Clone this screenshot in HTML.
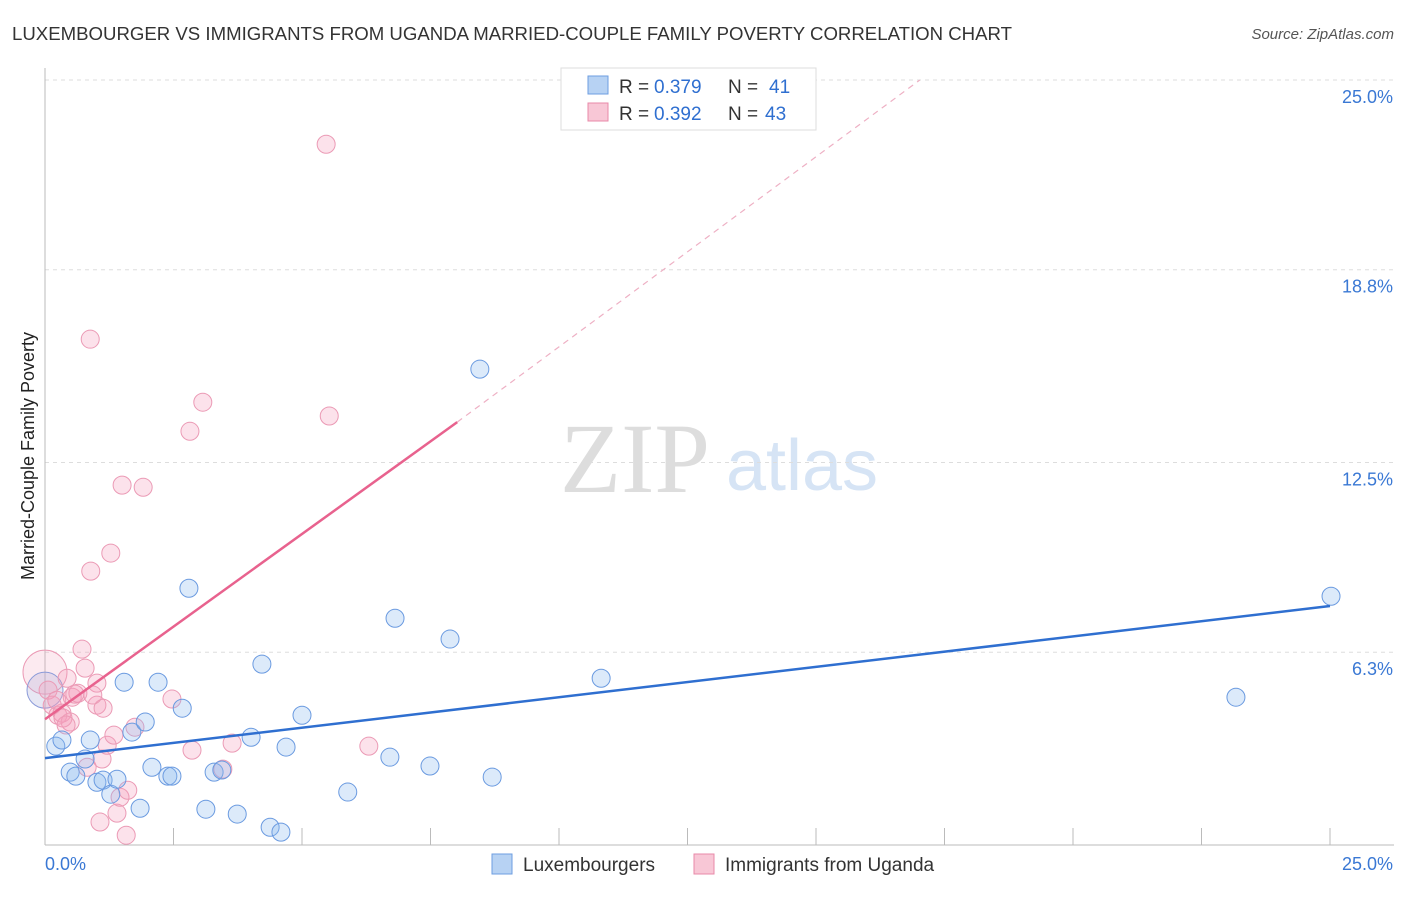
<!DOCTYPE html>
<html><head><meta charset="utf-8"><style>
body{margin:0;background:#fff;font-family:"Liberation Sans",sans-serif;}
svg text{font-family:"Liberation Sans",sans-serif;}
</style></head><body>
<svg id="c" width="1406" height="892">
<text x="12" y="40" font-size="18" fill="#333" textLength="1000" lengthAdjust="spacingAndGlyphs">LUXEMBOURGER VS IMMIGRANTS FROM UGANDA MARRIED-COUPLE FAMILY POVERTY CORRELATION CHART</text>
<text x="1394" y="39" font-size="15" fill="#555" text-anchor="end" font-style="italic">Source: ZipAtlas.com</text>
<text x="34" y="456" font-size="18" fill="#222" text-anchor="middle" transform="rotate(-90 34 456)">Married-Couple Family Poverty</text>
<g><text x="635" y="492" font-size="100" fill="#ddd" style="font-family:'Liberation Serif',serif" text-anchor="middle">ZIP</text><text x="802" y="490" font-size="72" fill="#d6e4f5" text-anchor="middle">atlas</text></g>
<g id="grid"></g><g id="marks"></g>
<g>
<rect x="561" y="68" width="255" height="62" fill="#fff" stroke="#ddd"/>
<rect x="588" y="76" width="20" height="18" fill="#b7d2f3" stroke="#6d9ee0"/>
<text x="619" y="93" font-size="19" fill="#333">R =</text><text x="654" y="93" font-size="19" fill="#2f6fd0">0.379</text><text x="728" y="93" font-size="19" fill="#333">N =</text><text x="769" y="93" font-size="19" fill="#2f6fd0">41</text>
<rect x="588" y="103" width="20" height="18" fill="#f8c7d6" stroke="#e88aa8"/>
<text x="619" y="120" font-size="19" fill="#333">R =</text><text x="654" y="120" font-size="19" fill="#2f6fd0">0.392</text><text x="728" y="120" font-size="19" fill="#333">N =</text><text x="765" y="120" font-size="19" fill="#2f6fd0">43</text>
</g>
<g>
<rect x="492" y="854" width="20" height="20" fill="#b7d2f3" stroke="#6d9ee0"/>
<text x="523" y="871" font-size="19" fill="#333">Luxembourgers</text>
<rect x="694" y="854" width="20" height="20" fill="#f8c7d6" stroke="#e88aa8"/>
<text x="725" y="871" font-size="19" fill="#333">Immigrants from Uganda</text>
</g>
</svg>
<script>
const yTicks=[25.0,18.8,12.5,6.3];
const yTickLabels=["25.0%","18.8%","12.5%","6.3%"];
const xTicks=[0,2.5,5,7.5,10,12.5,15,17.5,20,22.5,25];
const blueX=[0.21,0.33,0.49,0.60,0.78,0.88,1.01,1.13,1.28,1.40,1.54,1.69,1.85,1.95,2.08,2.20,2.39,2.47,2.67,2.80,3.13,3.29,3.44,3.74,4.01,4.22,4.38,4.59,4.69,5.00,5.89,6.71,6.81,7.49,7.88,8.46,8.70,10.82,23.17,25.02];
const blueY=[3.23,3.43,2.38,2.25,2.81,3.43,2.05,2.12,1.66,2.15,5.32,3.69,1.20,4.02,2.54,5.32,2.25,2.25,4.47,8.39,1.17,2.38,2.45,1.01,3.52,5.91,0.58,0.42,3.20,4.24,1.73,2.87,7.41,2.58,6.73,15.55,2.22,5.45,4.83,8.13];
const pinkX=[0.06,0.14,0.25,0.33,0.43,0.49,0.53,0.64,0.72,0.78,0.82,0.89,0.88,1.01,1.01,1.07,1.11,1.13,1.21,1.28,1.34,1.40,1.46,1.50,1.58,1.61,1.75,1.91,2.47,2.82,2.86,3.07,3.46,3.64,5.47,5.53,6.30,0.93,0.23,0.35,0.58,0.41];
const pinkY=[5.06,4.57,4.24,4.31,5.45,4.02,4.83,4.96,6.40,5.78,2.54,8.95,16.53,5.29,4.57,0.75,2.81,4.47,3.26,9.54,3.59,1.04,1.56,11.76,0.32,1.79,3.85,11.69,4.77,13.52,3.10,14.47,2.48,3.33,22.90,14.02,3.23,4.90,4.73,4.15,4.93,3.92];
const bigBlue=[0,5.06], bigPink=[0,5.65];
const blueTrend=[[0,2.84],[25,7.81]];
const pinkTrend=[[0,4.11],[8.02,13.82]];
const pinkDash=[[8.02,13.82],[17.02,25.0]];
const X=v=>45+v*51.4, Y=v=>845-v*30.6;
const NS="http://www.w3.org/2000/svg";
const grid=document.getElementById('grid'), marks=document.getElementById('marks');
function mk(tag,attrs,parent){const e=document.createElementNS(NS,tag);for(const k in attrs)e.setAttribute(k,attrs[k]);parent.appendChild(e);return e;}
yTicks.forEach((t,i)=>{
 const l=mk('line',{x1:45,x2:1394,y1:Y(t),y2:Y(t),stroke:'#ddd','stroke-dasharray':'4,4'},grid);
 
 
 const tx=mk('text',{x:1393,y:Y(t)+23,'font-size':18,fill:'#3a78d4','text-anchor':'end'},grid);
 tx.textContent=yTickLabels[i];
 
 
});
const ax=mk('line',{x1:45,x2:45,y1:68,y2:845,stroke:'#bbb'},grid);


const bx=mk('line',{x1:45,x2:1394,y1:845,y2:845,stroke:'#bbb'},grid);


xTicks.forEach(t=>{const l=mk('line',{x1:X(t),x2:X(t),y1:828,y2:845,stroke:'#bbb'},grid);
 
 });
const x0=mk('text',{x:45,y:870,'font-size':18,fill:'#3a78d4'},grid);x0.textContent='0.0%';


const x1=mk('text',{x:1393,y:870,'font-size':18,fill:'#3a78d4','text-anchor':'end'},grid);x1.textContent='25.0%';


function dot(x,y,r,fill,stroke,name){const c=mk('circle',{cx:X(x),cy:Y(y),r:r,fill:fill,stroke:stroke,'stroke-width':1},marks);
 
 }
const bf='rgba(140,185,240,0.3)',bs='#6a9ae0',pf='rgba(245,160,190,0.3)',ps='#eb9ab5';
dot(bigPink[0],bigPink[1],22,'rgba(245,170,195,0.25)',ps,'pink-point-large');
dot(bigBlue[0],bigBlue[1],18,'rgba(160,165,210,0.25)','#8a9ad8','blue-point-large');
pinkX.forEach((x,i)=>dot(x,pinkY[i],9,pf,ps,'uganda-point'));
blueX.forEach((x,i)=>dot(x,blueY[i],9,bf,bs,'luxembourger-point'));
function ln(p,col,w,dash,name){const l=mk('line',{x1:X(p[0][0]),y1:Y(p[0][1]),x2:X(p[1][0]),y2:Y(p[1][1]),stroke:col,'stroke-width':w},marks);
 if(dash)l.setAttribute('stroke-dasharray',dash);
 
 }
ln(blueTrend,'#2f6fd0',2.5,null,'luxembourger-trendline');
ln(pinkTrend,'#e8628e',2.5,null,'uganda-trendline');
ln(pinkDash,'#eeb0c4',1.2,'6,5','uganda-trendline-extension');
</script>
</body></html>
